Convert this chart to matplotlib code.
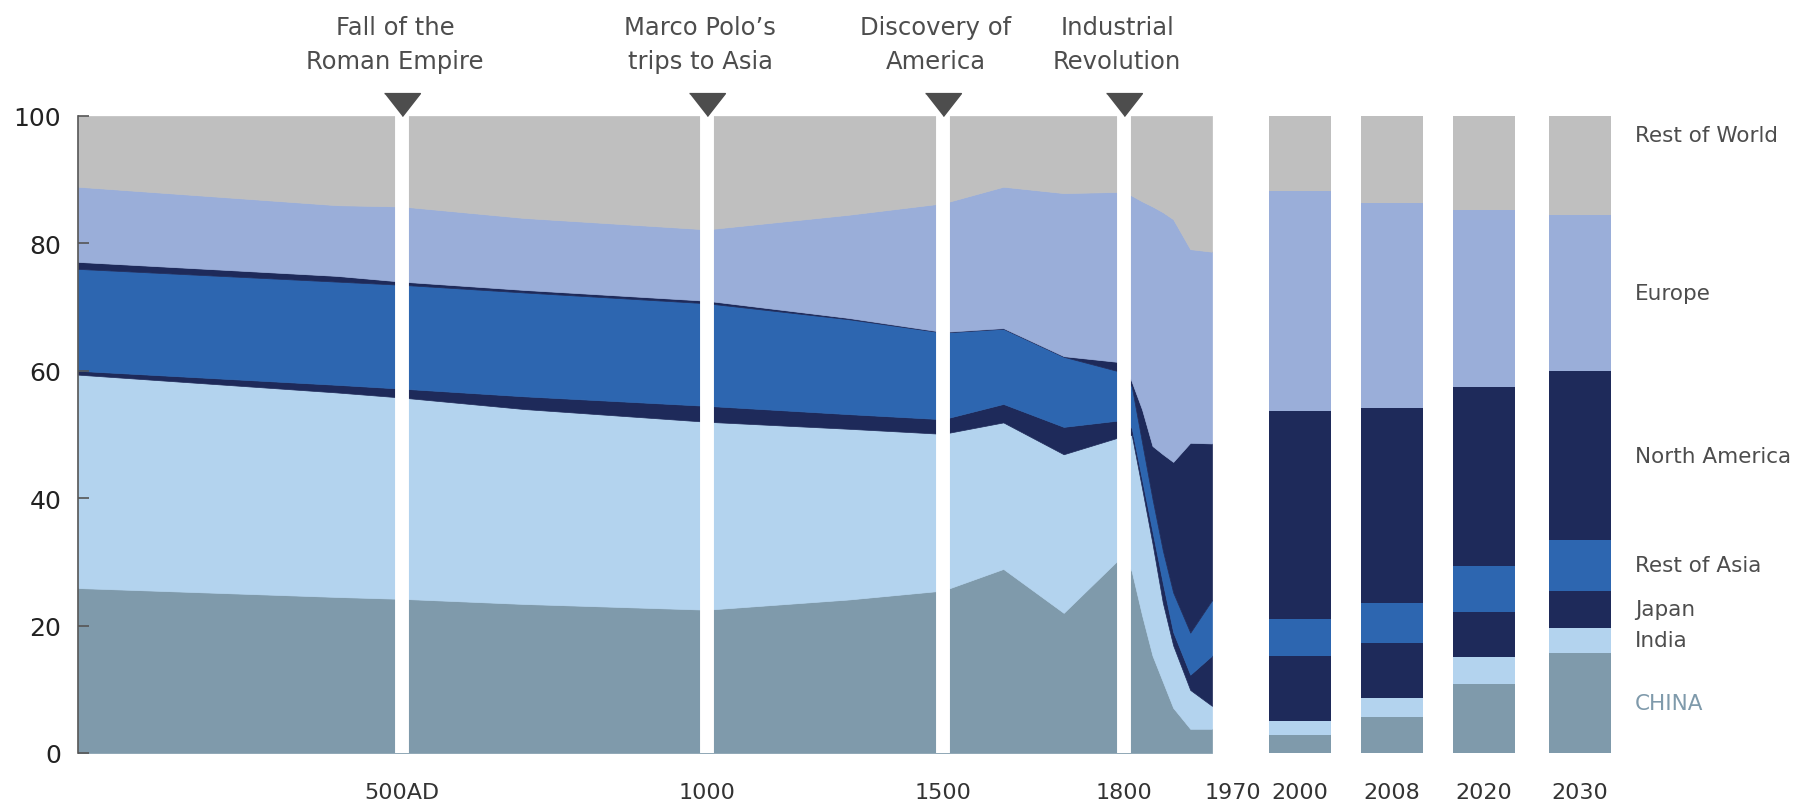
import numpy as np
import matplotlib
matplotlib.use("Agg")
import matplotlib.pyplot as plt
from matplotlib.transforms import ScaledTranslation

# share of world GDP (%)
years = [1, 400, 500, 700, 1000, 1300, 1500, 1600, 1700, 1800,
         1815, 1835, 1855, 1875, 1895, 1928, 1970,
         2000, 2008, 2020, 2030]
china = [25.9, 24.5, 24.2, 23.4, 22.5, 24.1, 25.5, 28.9, 22.0, 31.2,
         28.5, 21.6, 15.3, 11.2, 7.1, 3.8, 3.8,
         2.8, 5.7, 10.9, 15.7]
india = [33.5, 32.1, 31.6, 30.6, 29.5, 26.8, 24.6, 23.0, 24.9, 18.6,
         21.4, 19.9, 17.6, 12.4, 9.8, 6.1, 3.6,
         2.3, 2.9, 4.2, 4.0]
japan = [0.6, 1.2, 1.4, 2.0, 2.5, 2.3, 2.3, 2.9, 4.3, 2.5,
         1.1, 1.4, 1.9, 3.1, 2.1, 2.4, 7.9,
         10.2, 8.7, 7.0, 5.8]
rest_of_asia = [16.0, 16.2, 16.3, 16.3, 16.1, 14.9, 13.6, 11.8, 11.0, 7.4,
                6.5, 5.8, 5.1, 5.1, 6.2, 6.6, 8.7,
                5.8, 6.2, 7.2, 7.9]
north_america = [1.1, 0.9, 0.5, 0.4, 0.4, 0.2, 0.1, 0.1, 0.1, 1.6,
                 0.8, 5.2, 8.3, 15.1, 20.5, 29.8, 24.6,
                 32.6, 30.6, 28.2, 26.5]
europe = [11.8, 11.1, 11.8, 11.3, 11.2, 16.2, 20.2, 22.2, 25.6, 26.8,
          29.2, 32.7, 37.6, 38.0, 38.1, 30.4, 30.1,
          34.6, 32.2, 27.7, 24.6]
rest_of_world = [11.1, 14.0, 14.2, 16.0, 17.8, 15.5, 13.7, 11.1, 12.1, 11.9,
                 12.5, 13.4, 14.2, 15.1, 16.2, 20.9, 21.3,
                 11.7, 13.7, 14.8, 15.5]

regions = ["CHINA", "India", "Japan", "Rest of Asia", "North America",
           "Europe", "Rest of World"]
colors = ["#7f9aab", "#b3d3ee", "#1e2a5a", "#2d66b0", "#1e2a5a",
          "#9aaed9", "#bfbfbf"]

event_years = [500, 1000, 1500, 1800]
event_labels = ["Fall of the\nRoman Empire", "Marco Polo\u2019s\ntrips to Asia",
                "Discovery of\nAmerica", "Industrial\nRevolution"]
tick_years = [500, 1000, 1500, 1800, 1970, 2000, 2008, 2020, 2030]
tick_labels = ["500AD", "1000", "1500", "1800", "1970",
               "2000", "2008", "2020", "2030"]

# time axis is not linear: each era gets its own stretch of the axis
anchor_years = [1, 500, 1000, 1500, 1800, 1970, 2000, 2008, 2020, 2030]
anchor_pos = [0, 3.24, 6.29, 8.65, 10.46, 11.34, 12.22, 13.135, 14.055, 15.015]


def xpos(yrs):
    return np.interp(yrs, anchor_years, anchor_pos)


text_color = "#4d4d4d"

fig = plt.figure(figsize=(17.98, 8.04), dpi=100)
ax = fig.add_axes([78 / 1798, 50 / 804, 1534 / 1798, 637 / 804])

series = np.array([china, india, japan, rest_of_asia, north_america,
                   europe, rest_of_world])
yrs = np.array(years)
hist = yrs <= 1970
proj = ~hist

polys = ax.stackplot(xpos(yrs[hist]), series[:, hist], colors=colors)
for p in polys:
    p.set_edgecolor(p.get_facecolor())
    p.set_linewidth(0.5)

bottom = np.zeros(proj.sum())
for vals, c in zip(series[:, proj], colors):
    ax.bar(xpos(yrs[proj]), vals, bottom=bottom, width=0.62, color=c,
           linewidth=0)
    bottom += vals

# white separators and markers for the events
for yr, label in zip(event_years, event_labels):
    x = xpos(yr)
    ax.axvline(x, color="white", lw=10, zorder=3)
    ax.plot(x, 100, ls="none", marker=[(-18, 23), (18, 23), (0, 0)],
            ms=33, color=text_color, clip_on=False, zorder=4)
    ax.annotate(label, xy=(x, 100), xytext=(-5, 31),
                textcoords="offset points", ha="center", va="bottom",
                fontsize=17.5, color=text_color, linespacing=1.5)

# region labels next to the 2030 bar
last = series[:, -1]
mids = np.cumsum(last) - last / 2
mids[-1] = 97
for name, y in zip(regions, mids):
    ax.text(15.57, y, name, ha="left", va="center", fontsize=15.5,
            color=colors[0] if name == "CHINA" else text_color,
            clip_on=False)

ax.set_xlim(0, 15.34)
ax.set_ylim(0, 100)
ax.set_xticks(xpos(tick_years))
ax.set_xticklabels(tick_labels)
ax.set_yticks(range(0, 101, 20))
ax.tick_params(axis="x", length=0, pad=21, labelsize=16, labelcolor="#333333")
ax.tick_params(axis="y", direction="in", length=8, width=1.2, color="#555555",
               labelsize=18, labelcolor="#222222", pad=12)
for lbl in ax.get_xticklabels():
    if lbl.get_text() == "1970":
        lbl.set_ha("left")
        lbl.set_transform(lbl.get_transform()
                          + ScaledTranslation(-0.07, 0, fig.dpi_scale_trans))

for side in ["top", "right", "bottom"]:
    ax.spines[side].set_visible(False)
ax.spines["left"].set_color("#555555")
ax.spines["left"].set_linewidth(1.2)

fig.savefig("out.png", dpi=100)
